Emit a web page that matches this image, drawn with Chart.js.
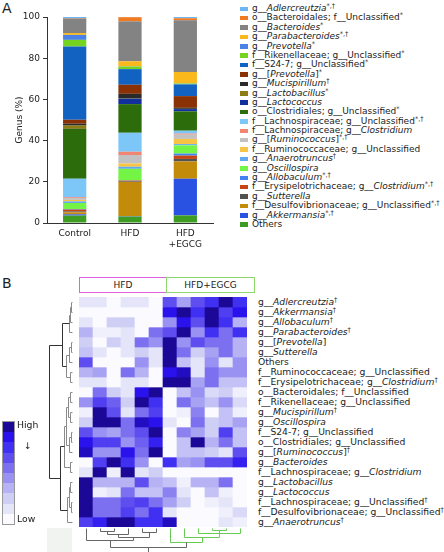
<!DOCTYPE html>
<html>
<head>
<meta charset="utf-8">
<script src="https://cdn.jsdelivr.net/npm/chart.js@4.4.1/dist/chart.umd.min.js"></script>
<style>
body { margin:0; width:444px; height:552px; background:#fff; position:relative; overflow:hidden;
  font-family:"DejaVu Sans", Verdana, sans-serif; color:#222; }
.abs { position:absolute; }
.panel { position:absolute; font-size:14px; }
#legA .item, #rowLabels .item { position:absolute; white-space:nowrap; }
#legA .item { left:0; height:9.4px; line-height:9.4px; font-size:9px; }
#legA .sw { position:absolute; left:0; top:2.5px; width:8px; height:4.5px; }
#legA .tx { position:absolute; left:12px; top:0; }
#rowLabels .item { left:0; height:10px; line-height:10px; font-size:9.2px; }
sup { font-size:6.5px; vertical-align:3px; line-height:0; }
.grpbox { position:absolute; top:277px; height:14px; font-size:9px; line-height:14px; text-align:center; }
#scaleBar div { position:absolute; left:0; width:9px; }
</style>
</head>
<body>
<div class="panel" style="left:2px;top:0px;">A</div>
<div class="panel" style="left:2px;top:275px;">B</div>

<canvas id="barChart" class="abs" width="218" height="256" style="left:0;top:0;"></canvas>
<div id="legA" class="abs" style="left:240px;top:4px;"></div>

<div class="grpbox" style="left:79px;width:86px;border:1px solid #e25ee0;">HFD</div>
<div class="grpbox" style="left:166px;width:87px;border:1px solid #8cd86a;">HFD+EGCG</div>

<canvas id="heatChart" class="abs" width="206" height="256" style="left:44px;top:296px;"></canvas>
<div id="rowLabels" class="abs" style="left:258px;top:0;"></div>

<div id="scaleBar" class="abs" style="left:2px;top:421px;width:11px;height:102px;border:1px solid #999;"></div>
<div class="abs" style="left:17px;top:419px;font-size:9.3px;">High</div>
<div class="abs" style="left:24px;top:440px;font-size:9.3px;">&#8595;</div>
<div class="abs" style="left:17px;top:513px;font-size:9.3px;">Low</div>
<div class="abs" style="left:47px;top:528px;width:25px;height:24px;background:#f1f3f1;"></div>

<script>
// ---------------- panel A: stacked genus bars ----------------
var groups = ["Control", "HFD", ["HFD", "+EGCG"]];

// legend order (top of legend = top of the stack)
var taxa = [
  "g__<i>Adlercreutzia</i><sup>*,†</sup>",
  "o__Bacteroidales; f__Unclassified<sup>*</sup>",
  "g__<i>Bacteroides</i><sup>*</sup>",
  "g__<i>Parabacteroides</i><sup>*,†</sup>",
  "g__<i>Prevotella</i><sup>*</sup>",
  "f__Rikenellaceae; g__Unclassified<sup>*</sup>",
  "f__S24-7; g__Unclassified<sup>*</sup>",
  "g__[<i>Prevotella</i>]<sup>*</sup>",
  "g__<i>Mucispirillum</i><sup>†</sup>",
  "g__<i>Lactobacillus</i><sup>*</sup>",
  "g__<i>Lactococcus</i>",
  "o__Clostridiales; g__Unclassified<sup>*</sup>",
  "f__Lachnospiraceae; g__Unclassified<sup>*,†</sup>",
  "f__Lachnospiraceae; g__<i>Clostridium</i>",
  "g__[<i>Ruminococcus</i>]<sup>*,†</sup>",
  "f__Ruminococcaceae; g__Unclassified",
  "g__<i>Anaerotruncus</i><sup>†</sup>",
  "g__<i>Oscillospira</i>",
  "g__<i>Allobaculum</i><sup>*,†</sup>",
  "f__Erysipelotrichaceae; g__<i>Clostridium</i><sup>*,†</sup>",
  "g__<i>Sutterella</i>",
  "f__Desulfovibrionaceae; g__Unclassified<sup>*,†</sup>",
  "g__<i>Akkermansia</i><sup>*,†</sup>",
  "Others"
];
var taxaColors = ["#6db6f2","#f07a22","#838383","#f9b81c","#4a82e8","#74d420","#1262c2","#8a3206",
  "#2a2a2a","#8c7c12","#12309c","#2c6c0a","#7cc6f8","#f28472","#c2c2c2","#f8c446",
  "#62a8f0","#74f444","#4282f2","#c84412","#525252","#c28c0a","#2a52e2","#3e9c22"];

var control = [0.5,0.2,7.1,0.9,2.4,3.2,35.6,1.9,0.9,1.6,0.1,24.1,8.9,0.4,1.0,0.7,0.8,2.9,0.3,0.9,0.4,1.0,0.6,3.6];
var hfd     = [0.1,2.0,19.4,2.5,0.1,1.2,7.6,4.4,2.3,0.1,2.6,13.9,9.2,1.6,4.1,1.6,1.0,5.6,0.1,0.4,0.3,16.6,0.2,3.1];
var hfdEgcg = [0.6,1.0,25.1,5.5,0.1,0.4,5.7,5.7,0.5,0.1,1.1,9.4,1.4,0.5,2.1,2.5,0.6,4.0,1.0,1.6,1.2,8.4,17.8,3.7];

var yTicks = [0, 20, 40, 60, 80, 100];

// ---------------- panel B: heatmap ----------------
var heatCols = ["HFD 1","HFD 2","HFD 3","HFD 4","HFD 5","HFD 6",
  "HFD+EGCG 1","HFD+EGCG 2","HFD+EGCG 3","HFD+EGCG 4","HFD+EGCG 5","HFD+EGCG 6"];
var heatRows = [
  "g__<i>Adlercreutzia</i><sup>†</sup>",
  "g__<i>Akkermansia</i><sup>†</sup>",
  "g__<i>Allobaculum</i><sup>†</sup>",
  "g__<i>Parabacteroides</i><sup>†</sup>",
  "g__[<i>Prevotella</i>]",
  "g__<i>Sutterella</i>",
  "Others",
  "f__Ruminococcaceae; g__Unclassified",
  "f__Erysipelotrichaceae; g__<i>Clostridium</i><sup>†</sup>",
  "o__Bacteroidales; f__Unclassified",
  "f__Rikenellaceae; g__Unclassified",
  "g__<i>Mucispirillum</i><sup>†</sup>",
  "g__<i>Oscillospira</i>",
  "f__S24-7; g__Unclassified",
  "o__Clostridiales; g__Unclassified",
  "g__[<i>Ruminococcus</i>]<sup>†</sup>",
  "g__<i>Bacteroides</i>",
  "f__Lachnospiraceae; g__<i>Clostridium</i>",
  "g__<i>Lactobacillus</i>",
  "g__<i>Lactococcus</i>",
  "f__Lachnospiraceae; g__Unclassified<sup>†</sup>",
  "f__Desulfovibrionaceae; g__Unclassified<sup>†</sup>",
  "g__<i>Anaerotruncus</i><sup>†</sup>"
];
// relative abundance level, 0 = low ... 9 = high
var heatValues = [
  [1,1,0,1,1,0, 6,3.5,6,7,9,7],
  [0,0,0,0,0,0, 8,9,7,9,6.5,8],
  [1,0,2,2,0,0, 4,8,6,9,7,3],
  [3,0.5,0.5,1,0,5, 6,9,4,7,5,7],
  [2,0,2,1,5,4, 9,4,6,5,5,3],
  [2.5,1,0,1,2,1, 9,5,2,3.5,5,3],
  [6,0,0,0,4,1, 9,2.5,1,4,1,4],
  [3,3.5,0,5,3,0, 8,8.5,1,5,4,4],
  [1,1,0,1,1,0, 9,9,3.5,5,2.5,2.5],
  [0,5,2,1,8,9, 0,2.5,4,1.5,2,0.5],
  [4,6.5,5.5,2,9,7, 0,5,3.5,2.5,4,1.5],
  [0.5,9,6,1,5,6.5, 0,0.5,4.5,0,2.5,0.5],
  [2,9,9,5,8.5,8, 1,0,5,2,2.5,3.5],
  [6,4,3.5,5,6,9, 0,4.5,3.5,2,6.5,2.5],
  [8,6.5,6.5,4,5.5,7.5, 0,2.5,9,3,5,2.5],
  [8.5,4,4,8,5,9, 0,2.5,2.5,2,1,6],
  [0,6.5,9,7,4,0, 7,3.5,4,6,6,7.5],
  [1,9,0.5,9,1,2, 0,0,0,0,0,0],
  [9,3,3,3,6,3, 2.5,0.5,3,3,5,0],
  [9,0.5,1,5,2.5,2.5, 4.5,1,0,2.5,0.5,0],
  [9,5,5,6,6.5,5, 3.5,2,0,0.5,1,0],
  [9,5,5,6.5,5,7, 1,0,0,0,0.5,1.5],
  [6.5,7.5,9,9,7,7, 8.5,0,0,0,1,0.5]
];
// dendrograms: [left, right, height]; leaves are row / column indexes
var rowTree = [
  [[[[0,1,1],2,2],3,3], [[[4,5,1.5],6,3],[7,8,2],6], 10],
  [[[[[9,10,2],[11,12,2],4],[[13,14,1.5],15,3],6],[16,17,2.5],8], [[[18,19,2],[20,21,1.5],3.5],22,5], 12],
  23];
var colTree = [
  [0, [[[1,2,3],3,6],[4,5,4],9], 12],
  [6, [7, [[9,10,2],[8,11,5],7], 9], 14],
  19];

// colour ramp of the heatmap, low -> high
var ramp = ["#fafaff","#e5e5f9","#cfcff6","#b6b2f4","#9a92f2","#7c70f0","#5e4ef0","#4030f2","#2a12ec","#1c0896"];

function hexRgb(h) { return [parseInt(h.substr(1,2),16), parseInt(h.substr(3,2),16), parseInt(h.substr(5,2),16)]; }
function heatColor(v) {
  var i = Math.min(Math.floor(v), ramp.length - 2), f = v - i;
  var a = hexRgb(ramp[i]), b = hexRgb(ramp[i+1]);
  return "rgb(" + Math.round(a[0]+(b[0]-a[0])*f) + "," + Math.round(a[1]+(b[1]-a[1])*f) + "," + Math.round(a[2]+(b[2]-a[2])*f) + ")";
}
function plain(s) { return s.replace(/<[^>]+>/g, ""); }

Chart.defaults.font.family = "'DejaVu Sans', Verdana, sans-serif";
Chart.defaults.font.size = 9;
Chart.defaults.color = "#222";

// stacked bars: first dataset sits at the bottom
var barSets = [];
for (var i = taxa.length - 1; i >= 0; i--) {
  barSets.push({
    label: plain(taxa[i]),
    data: [control[i], hfd[i], hfdEgcg[i]],
    backgroundColor: taxaColors[i],
    borderWidth: 0,
    barPercentage: 0.42,
    categoryPercentage: 1
  });
}

var barChart = new Chart(document.getElementById("barChart"), {
  type: "bar",
  data: { labels: groups, datasets: barSets },
  options: {
    responsive: false,
    animation: false,
    layout: { padding: { top: 17, right: 5, left: 0, bottom: 0 } },
    plugins: { legend: { display: false }, tooltip: { enabled: false } },
    scales: {
      x: {
        stacked: true,
        grid: { display: true, drawOnChartArea: false, drawTicks: false },
        border: { display: true, color: "#333" },
        ticks: { padding: 5, autoSkip: false, maxRotation: 0, color: "#222" },
        afterFit: function(s) { s.height = 33; }
      },
      y: {
        stacked: true, min: 0, max: 100,
        afterBuildTicks: function(s) { s.ticks = yTicks.map(function(v) { return { value: v }; }); },
        grid: { display: true, drawOnChartArea: false, drawTicks: true, tickLength: 4, color: "#333" },
        border: { display: true, color: "#333" },
        ticks: { padding: 3, color: "#222" },
        title: { display: true, text: "Genus (%)", padding: { top: 14, bottom: 0 }, color: "#222" },
        afterFit: function(s) { s.width = 47; }
      }
    }
  }
});

// html legend so the italics and footnote marks stay real text
var legA = document.getElementById("legA");
taxa.forEach(function(t, i) {
  var d = document.createElement("div");
  d.className = "item";
  d.style.top = (i * 9.39) + "px";
  d.innerHTML = '<span class="sw" style="background:' + taxaColors[i] + '"></span><span class="tx">' + t + "</span>";
  legA.appendChild(d);
});

// ---------------- heatmap ----------------
var heatSets = heatRows.map(function(label, r) {
  return {
    label: plain(label),
    data: heatCols.map(function() { return [r, r + 1]; }),
    backgroundColor: heatValues[r].map(heatColor),
    borderWidth: 0,
    barPercentage: 1,
    categoryPercentage: 1,
    grouped: false
  };
});

function drawTree(ctx, node, leafPos, hPos, orient, colorOf) {
  // returns {p: position along the leaves, h: merge height}
  if (typeof node === "number") return { p: leafPos(node), h: 0 };
  var a = drawTree(ctx, node[0], leafPos, hPos, orient, colorOf);
  var b = drawTree(ctx, node[1], leafPos, hPos, orient, colorOf);
  var h = node[2];
  ctx.strokeStyle = colorOf(node);
  ctx.beginPath();
  if (orient === "row") {
    var x = Math.round(hPos(h)) + 0.5;
    ctx.moveTo(x, Math.round(a.p) + 0.5); ctx.lineTo(x, Math.round(b.p) + 0.5);
    [a, b].forEach(function(c) {
      ctx.moveTo(Math.round(hPos(c.h)) + 0.5, Math.round(c.p) + 0.5);
      ctx.lineTo(x, Math.round(c.p) + 0.5);
    });
  } else {
    var y = Math.round(hPos(h)) + 0.5;
    ctx.moveTo(Math.round(a.p) + 0.5, y); ctx.lineTo(Math.round(b.p) + 0.5, y);
    [a, b].forEach(function(c) {
      ctx.moveTo(Math.round(c.p) + 0.5, Math.round(hPos(c.h)) + 0.5);
      ctx.lineTo(Math.round(c.p) + 0.5, y);
    });
  }
  ctx.stroke();
  return { p: (a.p + b.p) / 2, h: h };
}

function hasLeafOver(node, min) {
  if (typeof node === "number") return node >= min;
  return hasLeafOver(node[0], min) && hasLeafOver(node[1], min);
}

var dendroPlugin = {
  id: "dendro",
  afterDraw: function(chart) {
    var ctx = chart.ctx, xs = chart.scales.x, ys = chart.scales.y, area = chart.chartArea;
    ctx.save();
    ctx.lineWidth = 1;
    // rows, on the left
    var rowLeaf = function(r) { return ys.getPixelForValue(r + 0.5); };
    var rowH = function(h) { return area.left - 7 - h; };
    drawTree(ctx, rowTree, rowLeaf, rowH, "row", function(n) { return n[2] >= 10 ? "#333" : "#8a8a8a"; });
    // columns, underneath
    var colLeaf = function(c) { return xs.getPixelForValue(c); };
    var colH = function(h) { return area.bottom + 1 + h; };
    var root = drawTree(ctx, colTree, colLeaf, colH, "col", function(n) {
      return hasLeafOver(n, 6) ? "#66cc55" : "#666";
    });
    ctx.strokeStyle = "#666";
    ctx.beginPath();
    ctx.moveTo(Math.round(root.p) + 0.5, colH(root.h));
    ctx.lineTo(Math.round(root.p) + 0.5, chart.height);
    ctx.stroke();
    ctx.restore();
  }
};

var heatChart = new Chart(document.getElementById("heatChart"), {
  type: "bar",
  data: { labels: heatCols, datasets: heatSets },
  options: {
    responsive: false,
    animation: false,
    layout: { padding: { left: 35, top: 1, right: 3, bottom: 25 } },
    plugins: { legend: { display: false }, tooltip: { enabled: false } },
    scales: {
      x: { display: false, stacked: true },
      y: { display: false, min: 0, max: heatRows.length, reverse: true }
    }
  },
  plugins: [dendroPlugin]
});

// row labels, placed from the heatmap's own y scale
var rowBox = document.getElementById("rowLabels");
var canvasTop = 296;
heatRows.forEach(function(t, r) {
  var d = document.createElement("div");
  d.className = "item";
  d.style.top = (canvasTop + heatChart.scales.y.getPixelForValue(r + 0.5) - 5.5) + "px";
  d.innerHTML = t;
  rowBox.appendChild(d);
});

// colour key
var scaleBar = document.getElementById("scaleBar");
for (var k = 0; k < ramp.length; k++) {
  var s = document.createElement("div");
  s.style.top = (k * 10.2) + "px";
  s.style.height = "10.2px";
  s.style.width = "11px";
  s.style.background = ramp[ramp.length - 1 - k];
  scaleBar.appendChild(s);
}
</script>
</body>
</html>
